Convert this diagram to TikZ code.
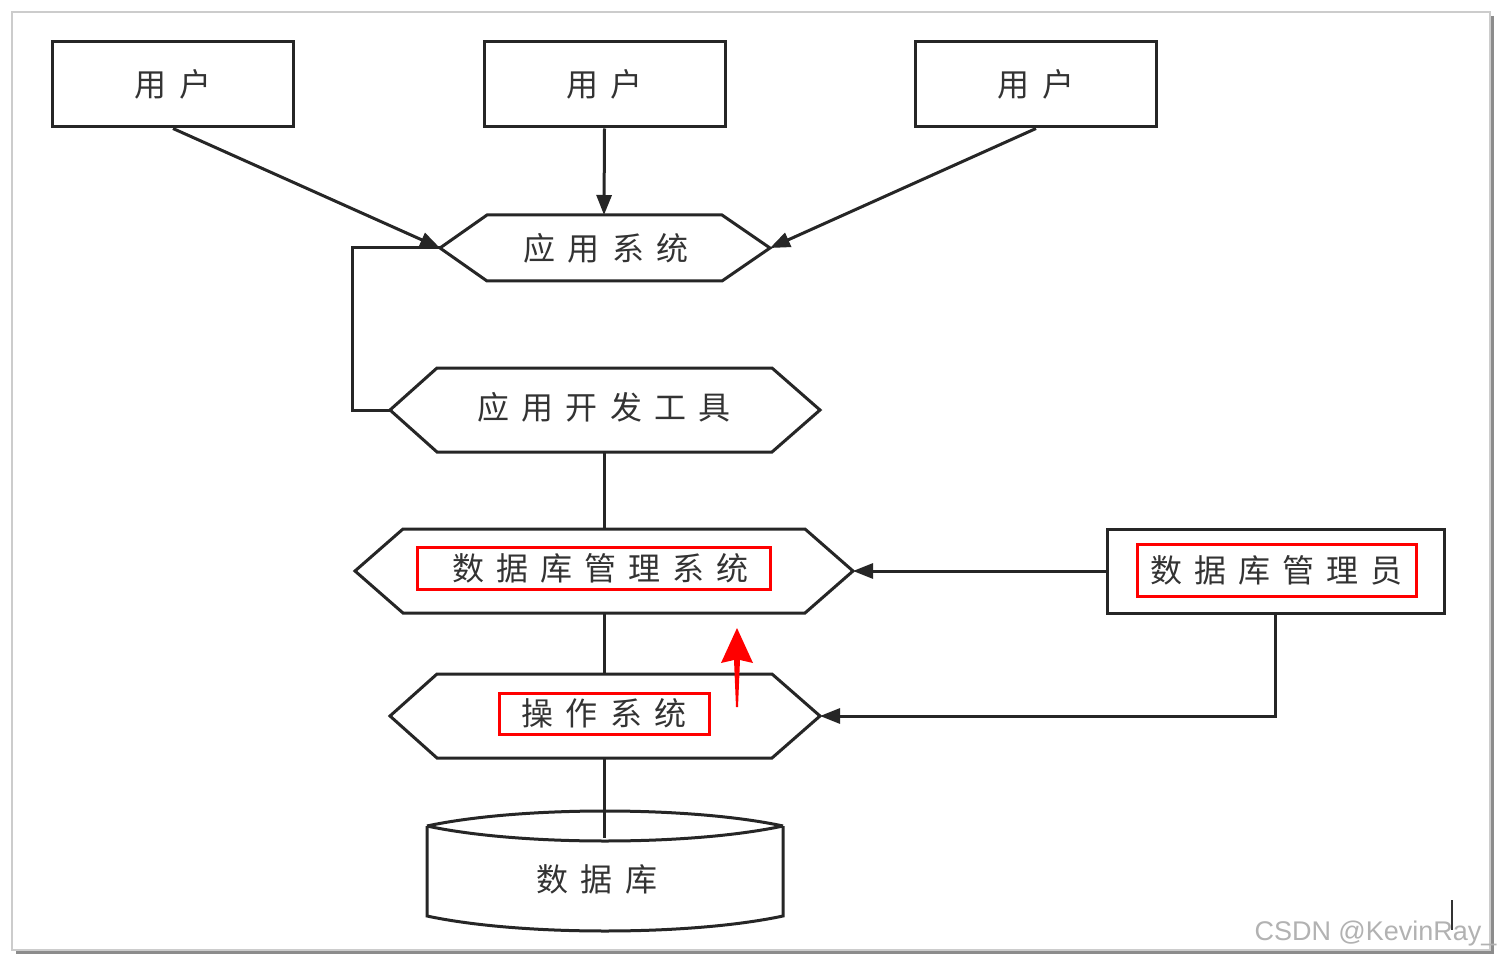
\documentclass[tikz,border=0pt]{standalone}
\usepackage{fontspec}
\setmainfont{Noto Sans CJK SC}
\newfontfamily\wmfont{Liberation Sans}
\usetikzlibrary{arrows.meta}
\begin{document}
\begin{tikzpicture}[x=1pt,y=-1pt,line width=3pt,line join=miter,
  lbl/.style={font=\fontsize{32}{34}\selectfont\addfontfeature{LetterSpace=38},text=black!80,inner sep=0pt},
  userbox/.style={lbl,draw=black!85,minimum width=241pt,minimum height=85pt},
  adminbox/.style={draw=black!85,minimum width=337pt,minimum height=84pt},
  redbox/.style={lbl,draw=red,line width=3pt},
  hexa/.style={draw=black!85},
  conn/.style={draw=black!85},
  arr/.style={conn,-{Triangle[length=20pt,width=15pt]}},
  frame/.style={draw=black!20,line width=1.5pt},
  shadow/.style={draw=black!45,line width=3pt},
  wm/.style={font=\wmfont\fontsize{27}{30}\selectfont,text=black!30,inner sep=0pt}
]
\useasboundingbox (0,0) rectangle (1500,960);
\fill[white] (0,0) rectangle (1500,960);
% page frame
\draw[shadow] (1492,16) -- (1492,952) -- (16,952);
\draw[frame] (12,12) rectangle (1490,950);

% users
\node[userbox] (u1) at (173,84.5) {用户};
\node[userbox] (u2) at (604.5,84.5) {用户};
\node[userbox] (u3) at (1036,84.5) {用户};

% application system hexagon
\draw[hexa] (440,248) -- (487,215) -- (722,215) -- (770,248) -- (722,281) -- (487,281) -- cycle;
\coordinate (asL) at (440,248);
\coordinate (asR) at (770,248);
\coordinate (asT) at (604,215);
\node[lbl] (as) at (606,248) {应用系统};

% application development tools hexagon
\draw[hexa] (390,410) -- (437,368) -- (772,368) -- (820,410) -- (772,452) -- (437,452) -- cycle;
\coordinate (devL) at (390,410);
\coordinate (devB) at (604,452);
\node[lbl] (dev) at (604,407) {应用开发工具};

% DBMS hexagon
\draw[hexa] (355,571) -- (403,529) -- (805,529) -- (853,571) -- (805,613) -- (403,613) -- cycle;
\coordinate (dbmsT) at (604,529);
\coordinate (dbmsB) at (604,613);
\coordinate (dbmsR) at (853,571);
\node[redbox,minimum width=353pt,minimum height=42pt] (dbms) at (593.5,568) {\hspace*{14pt}数据库管理系统};

% DBA box
\node[adminbox] (dbaBox) at (1275.5,571) {};
\node[redbox,minimum width=279pt,minimum height=52pt] (dba) at (1276.5,570) {数据库管理员};

% OS hexagon
\draw[hexa] (390,716) -- (437,674) -- (772,674) -- (820,716) -- (772,758) -- (437,758) -- cycle;
\coordinate (osT) at (604,674);
\coordinate (osB) at (604,758);
\coordinate (osR) at (820,716);
\node[redbox,minimum width=210pt,minimum height=41pt] (os) at (604,713.5) {操作系统};

% database cylinder
\draw[hexa] (427,826) .. controls (520,806) and (690,806) .. (783,826);
\draw[hexa] (427,826) .. controls (520,846) and (690,846) .. (783,826);
\draw[hexa] (427,826) -- (427,916) .. controls (520,936) and (690,936) .. (783,916) -- (783,826);
\coordinate (dbT) at (604,838);
\node[lbl] (db) at (597,879) {数据库};

% connectors
\draw[arr] (u1.south) -- (asL);
\draw[arr] (u2.south) -- (asT);
\draw[arr] (u3.south) -- (asR);
\draw[conn] (asL) -- (352,248) -- (352,410) -- (devL);
\draw[conn] (devB) -- (dbmsT);
\draw[conn] (dbmsB) -- (osT);
\draw[conn] (osB) -- (dbT);
\draw[arr] (dbaBox.west) -- (dbmsR);
\draw[arr] (dbaBox.south) |- (osR);

% red annotation arrow
\fill[red] (737,628) -- (753,663) -- (740,660) -- (738,707) -- (736,707) -- (734,660) -- (721,663) -- cycle;

% watermark and cursor mark
\draw[black!80,line width=2pt] (1452,900) -- (1452,930);
\node[wm,anchor=west] (wmk) at (1253,934) {CSDN @KevinRay\_};
\end{tikzpicture}
\end{document}
